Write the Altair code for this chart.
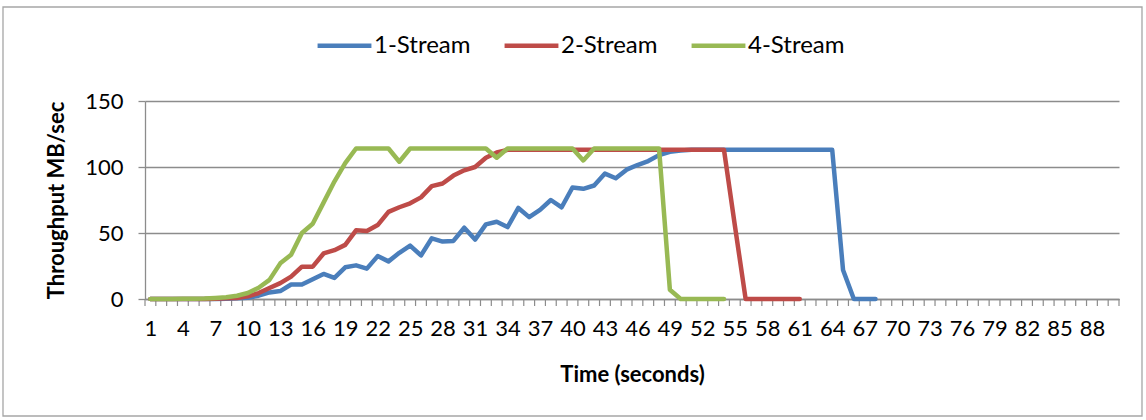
import altair as alt
import pandas as pd

# Series labels and line colours
series_names = ["1-Stream", "2-Stream", "4-Stream"]
series_colors = ["#4A7EBB", "#BE4B48", "#98B954"]

# Throughput (MB/sec) per second of transfer, starting at t = 1
stream_1 = [0, 0, 0, 0, 0, 0, 0, 0.2, 0.5,
            1, 2.5, 5, 6, 11, 11, 15, 19, 16, 24, 25.5,
            23, 32.5, 28.5, 35, 40.5, 33, 46, 43.5, 44, 54,
            45, 56.5, 58.5, 54.5, 69, 62, 67.5, 75, 69.5, 84.5,
            83.5, 86, 95, 91.5, 98, 101.5, 104.5, 109, 111.5, 112.5,
            113, 113, 113, 113, 113, 113, 113, 113, 113, 113, 113, 113, 113, 113,
            22, 0, 0, 0]
stream_2 = [0, 0, 0, 0, 0, 0, 0.2, 0.5, 0.8, 2,
            4.5, 8.3, 12, 17, 24.5, 24.5, 34.5, 37, 41, 52,
            51.5, 56, 66, 69.5, 72.5, 77, 85.5, 87.5, 93.5, 97.5,
            100, 107, 111,
            113, 113, 113, 113, 113, 113, 113, 113, 113, 113, 113,
            113, 113, 113, 113, 113, 113, 113, 113, 113, 113,
            56, 0, 0, 0, 0, 0, 0]
stream_4 = [0, 0, 0, 0.1, 0.2, 0.4, 0.8, 1.3, 2.5, 4.5,
            8.5, 14.5, 27, 33.5, 50, 57, 73, 89, 103, 114,
            114, 114, 114, 104,
            114, 114, 114, 114, 114, 114, 114, 114, 107,
            114, 114, 114, 114, 114, 114, 114, 105,
            114, 114, 114, 114, 114, 114, 114,
            7, 0, 0, 0, 0, 0]

n_seconds = 90
x_label_values = list(range(1, 89, 3))
y_tick_values = [0, 50, 100, 150]

rows = []
for name, values in zip(series_names, [stream_1, stream_2, stream_4]):
    for t, v in enumerate(values, start=1):
        rows.append({"Time": t, "Throughput": v, "Series": name})
df = pd.DataFrame(rows)

# category boundaries for the small tick marks under the time axis
boundaries = pd.DataFrame({"edge": [k + 0.5 for k in range(0, n_seconds + 1)]})

W, H = 974, 198
GRAY = "#8C8C8C"
FONT = "Lato"

x_scale = alt.Scale(domain=[0.5, n_seconds + 0.5], nice=False, zero=False)
y_scale = alt.Scale(domain=[0, 150], nice=False)

# one shared definition of the time axis for every layer using x
x_axis = alt.Axis(
    values=x_label_values, format="d", title="Time (seconds)",
    grid=False, ticks=False, tickSize=0, labelPadding=19,
    labelFlush=False, labelOverlap=False, labelBound=False,
    titlePadding=25,
)

lines = alt.Chart(df).mark_line(
    strokeWidth=4.5, strokeCap="round", strokeJoin="round"
).encode(
    x=alt.X("Time:Q", scale=x_scale, axis=x_axis),
    y=alt.Y(
        "Throughput:Q",
        scale=y_scale,
        axis=alt.Axis(
            values=y_tick_values, title="Throughput MB/sec",
            grid=True, ticks=True, tickSize=7, labelPadding=15,
            titlePadding=16,
        ),
    ),
    color=alt.Color(
        "Series:N",
        scale=alt.Scale(domain=series_names, range=series_colors),
        legend=alt.Legend(
            title=None, orient="none", direction="horizontal",
            legendX=170, legendY=-85, symbolType="stroke",
            symbolSize=2900, symbolStrokeWidth=4.5, labelFont=FONT,
            labelFontSize=24, labelColor="#000000", labelOffset=0,
            columnPadding=24, padding=0,
        ),
    ),
)

category_ticks = alt.Chart(boundaries).mark_rule(
    color=GRAY, strokeWidth=1.2
).encode(
    x=alt.X("edge:Q", scale=x_scale, axis=x_axis),
    y=alt.value(H),
    y2=alt.value(H + 7),
)

frame = alt.Chart(pd.DataFrame({"k": [0]})).mark_rect(
    fillOpacity=0, stroke="#A6A6A6", strokeWidth=1.3
).encode(
    x=alt.value(-142), x2=alt.value(997),
    y=alt.value(-94), y2=alt.value(315),
)

chart = alt.layer(frame, category_ticks, lines).properties(
    width=W,
    height=H,
    padding={"left": 145, "top": 101, "right": 27, "bottom": 121},
    autosize="none",
    background="#FFFFFF",
).configure_view(
    stroke="transparent"
).configure_axis(
    domainColor=GRAY, domainWidth=1.3,
    gridColor=GRAY, gridWidth=1.3,
    tickColor=GRAY, tickWidth=1.3,
    labelFont=FONT, labelFontSize=22, labelColor="#000000",
    titleFont=FONT, titleFontSize=22, titleFontWeight="bold",
    titleColor="#000000",
)

chart.save("out.html", embed_options={"renderer": "svg", "actions": False})
